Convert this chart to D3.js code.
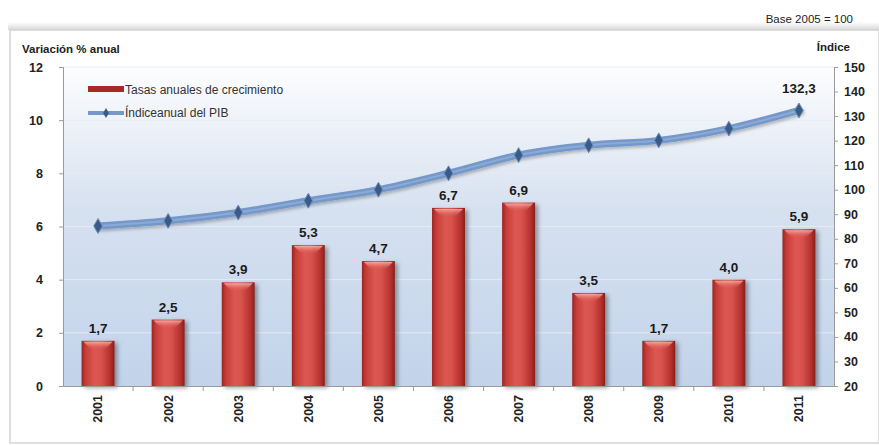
<!DOCTYPE html>
<html><head><meta charset="utf-8">
<script src="https://cdn.jsdelivr.net/npm/d3@7"></script>
<style>
body{margin:0;background:#fff;}
text{font-family:"Liberation Sans",Arial,sans-serif;}
</style></head>
<body>
<svg id="c" width="879" height="445"></svg>
<script>
const years = ["2001","2002","2003","2004","2005","2006","2007","2008","2009","2010","2011"];
const growth = [1.7,2.5,3.9,5.3,4.7,6.7,6.9,3.5,1.7,4.0,5.9];
const indexPIB = [85.2,87.3,90.7,95.5,100,106.7,114.1,118.1,120.1,124.9,132.3];
const leftTicks = [0,2,4,6,8,10,12];
const rightTicks = [20,30,40,50,60,70,80,90,100,110,120,130,140,150];
const seriesNames = ["Tasas anuales de crecimiento","Índiceanual del PIB"];

const svg = d3.select("#c");
const L = 63, R = 834, T = 67, B = 386;
const defs = svg.append("defs");

// frame shadow
const fs = defs.append("linearGradient").attr("id","frameTop").attr("x1",0).attr("x2",0).attr("y1",0).attr("y2",1);
fs.append("stop").attr("offset","0").attr("stop-color","#ffffff");
fs.append("stop").attr("offset","1").attr("stop-color","#d8d8d8");
svg.append("rect").attr("x",8).attr("y",22).attr("width",871).attr("height",8).attr("fill","url(#frameTop)");
svg.append("rect").attr("x",10).attr("y",30).attr("width",869).attr("height",413)
  .attr("fill","#fff").attr("stroke","#d4d4d4").attr("stroke-width",1.5);

// plot background gradient
const bg = defs.append("linearGradient").attr("id","bg").attr("x1",0).attr("x2",0).attr("y1",0).attr("y2",1);
bg.append("stop").attr("offset","0").attr("stop-color","#fdfdfe");
bg.append("stop").attr("offset","0.45").attr("stop-color","#d6e1f0");
bg.append("stop").attr("offset","1").attr("stop-color","#c2d3ea");
svg.append("rect").attr("x",L).attr("y",T).attr("width",R-L).attr("height",B-T).attr("fill","url(#bg)");

const x = d3.scaleBand().domain(years).range([L,R]).paddingInner(0.53).paddingOuter(0.265);
const yL = d3.scaleLinear().domain([0,12]).range([B,T]);
const yR = d3.scaleLinear().domain([20,150]).range([B,T]);

// faint gridlines
svg.append("g").selectAll("line").data(leftTicks.filter(d=>d>0)).join("line")
  .attr("x1",L).attr("x2",R).attr("y1",d=>yL(d)).attr("y2",d=>yL(d))
  .attr("stroke","#e6ebf2").attr("stroke-width",1);

// bar gradients
const bgH = defs.append("linearGradient").attr("id","barH").attr("x1",0).attr("x2",1).attr("y1",0).attr("y2",0);
[["0","#9a2421"],["0.12","#c63c37"],["0.4","#dc5852"],["0.6","#d8514c"],["0.88","#b3302c"],["1","#85201c"]]
  .forEach(s=>bgH.append("stop").attr("offset",s[0]).attr("stop-color",s[1]));
const hl = defs.append("linearGradient").attr("id","hl").attr("x1",0).attr("x2",0).attr("y1",0).attr("y2",1);
hl.append("stop").attr("offset","0").attr("stop-color","#f7b0aa").attr("stop-opacity",0.9);
hl.append("stop").attr("offset","1").attr("stop-color","#dc5852").attr("stop-opacity",0);
const sh = defs.append("filter").attr("id","sh").attr("x","-20%").attr("y","-20%").attr("width","150%").attr("height","150%");
sh.append("feDropShadow").attr("dx",3).attr("dy",2).attr("stdDeviation",2).attr("flood-color","#000").attr("flood-opacity",0.35);

const bars = svg.append("g");
years.forEach((yr,i)=>{
  const bx = x(yr), bw = x.bandwidth(), by = yL(growth[i]), bh = B - by;
  const g = bars.append("g");
  g.append("rect").attr("x",bx).attr("y",by).attr("width",bw).attr("height",bh)
    .attr("fill","url(#barH)").attr("filter","url(#sh)");
  g.append("path").attr("d",`M${bx+2},${by+1}L${bx+bw-2},${by+1}L${bx+bw*0.7},${by+9}L${bx+bw*0.3},${by+9}Z`)
    .attr("fill","url(#hl)");
  g.append("text").attr("x",bx+bw/2).attr("y",by-8).attr("text-anchor","middle")
    .attr("font-size",13.5).attr("font-weight","bold").attr("fill","#1a1a1a")
    .text(growth[i].toFixed(1).replace(".",","));
});

// axes
const axL = svg.append("g").attr("transform",`translate(${L},0)`)
  .call(d3.axisLeft(yL).tickValues(leftTicks).tickSize(4).tickPadding(16));
const axR = svg.append("g").attr("transform",`translate(${R},0)`)
  .call(d3.axisRight(yR).tickValues(rightTicks).tickSize(4).tickPadding(6));
const axB = svg.append("g").attr("transform",`translate(0,${B})`)
  .call(d3.axisBottom(x).tickSize(0).tickPadding(10));
[axL,axR,axB].forEach(a=>{
  a.select(".domain").attr("stroke","#9a9a9a");
  a.selectAll(".tick line").attr("stroke","#9a9a9a");
  a.selectAll("text").attr("font-size",12.5).attr("font-weight","bold").attr("fill","#222")
    .attr("font-family","Liberation Sans, Arial, sans-serif");
});
axB.selectAll(".tick text").attr("transform","rotate(-90)").attr("text-anchor","end")
  .attr("x",-9).attr("y",0).attr("dy","0.35em");
// category separators
const sep = x.step();
svg.append("g").selectAll("line").data(years.slice(1)).join("line")
  .attr("x1",d=>x(d)-x.paddingInner()*sep/2).attr("x2",d=>x(d)-x.paddingInner()*sep/2)
  .attr("y1",B).attr("y2",B+5).attr("stroke","#9a9a9a");

// line
const line = d3.line().x((d,i)=>x(years[i])+x.bandwidth()/2).y(d=>yR(d)).curve(d3.curveMonotoneX);
const lsh = defs.append("filter").attr("id","lsh").attr("x","-10%").attr("y","-30%").attr("width","120%").attr("height","160%");
lsh.append("feDropShadow").attr("dx",2).attr("dy",2).attr("stdDeviation",1.5).attr("flood-color","#000").attr("flood-opacity",0.25);
svg.append("path").datum(indexPIB).attr("d",line).attr("fill","none")
  .attr("stroke","#7598ca").attr("stroke-width",7).attr("stroke-linecap","round").attr("filter","url(#lsh)");
svg.append("path").datum(indexPIB).attr("d",line).attr("fill","none")
  .attr("stroke","#9bb6dc").attr("stroke-width",2).attr("opacity",0.6);
const diamond = d3.symbol().type(d3.symbolDiamond).size(64);
svg.append("g").selectAll("path").data(indexPIB).join("path")
  .attr("transform",(d,i)=>`translate(${x(years[i])+x.bandwidth()/2},${yR(d)})`)
  .attr("d",diamond).attr("fill","#3a5b88").attr("stroke","#6a8dbd").attr("stroke-width",1);
svg.append("text").attr("x",x("2011")+x.bandwidth()/2).attr("y",yR(indexPIB[10])-17)
  .attr("text-anchor","middle").attr("font-size",13.5).attr("font-weight","bold").attr("fill","#1a1a1a")
  .text(String(indexPIB[10]).replace(".",","));

// axis titles
svg.append("text").attr("x",22).attr("y",53).attr("font-size",11.5).attr("font-weight","bold")
  .attr("fill","#222").text("Variación % anual");
svg.append("text").attr("x",850).attr("y",51).attr("text-anchor","end").attr("font-size",11.5)
  .attr("font-weight","bold").attr("fill","#222").text("Índice");
svg.append("text").attr("x",853).attr("y",23).attr("text-anchor","end").attr("font-size",11.5)
  .attr("fill","#222").text("Base 2005 = 100");

// legend
const lg = svg.append("g");
lg.append("rect").attr("x",88).attr("y",86).attr("width",36).attr("height",6).attr("fill","#a82a27");
lg.append("text").attr("x",125).attr("y",93.5).attr("font-size",12).attr("fill","#333").text(seriesNames[0]);
lg.append("line").attr("x1",88).attr("x2",124).attr("y1",113).attr("y2",113).attr("stroke","#7598ca").attr("stroke-width",4);
lg.append("path").attr("transform","translate(106,113)").attr("d",d3.symbol().type(d3.symbolDiamond).size(30))
  .attr("fill","#3a5b88");
lg.append("text").attr("x",125).attr("y",117).attr("font-size",12).attr("fill","#333").text(seriesNames[1]);
</script>
</body></html>
